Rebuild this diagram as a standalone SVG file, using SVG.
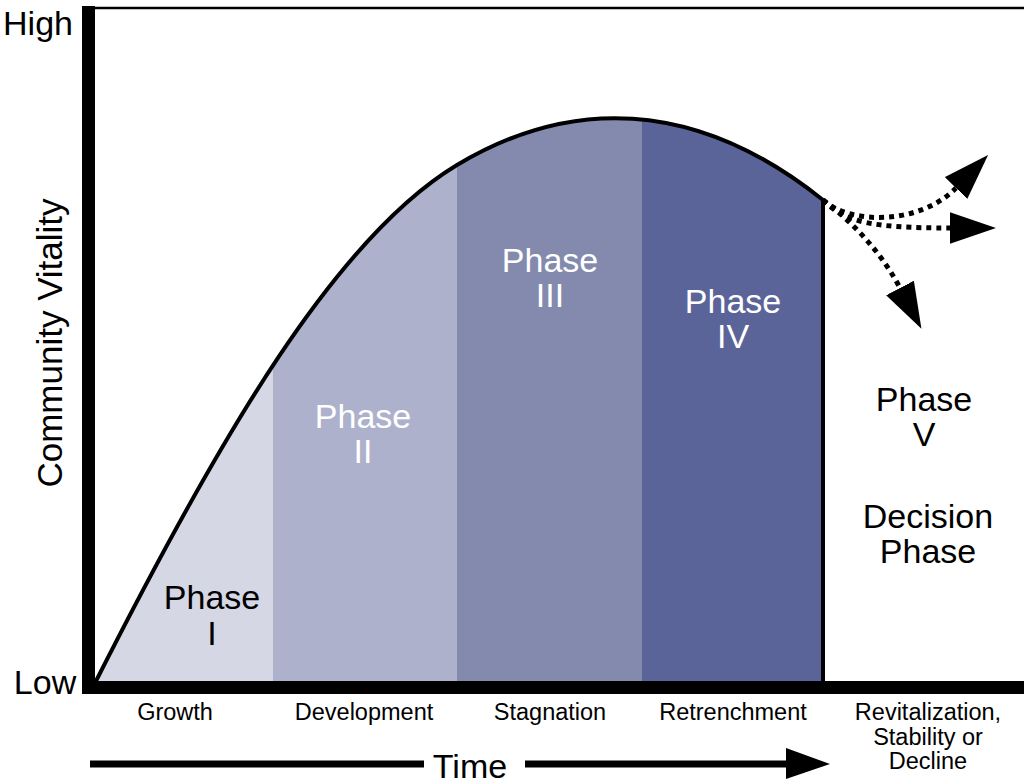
<svg xmlns="http://www.w3.org/2000/svg" width="1024" height="784" viewBox="0 0 1024 784">
<style>
text{font-family:"Liberation Sans",Arial,Helvetica,sans-serif;fill:#000}
.big{font-size:34px;text-anchor:middle}
.w{fill:#fff}
.lab{font-size:23.5px;text-anchor:middle}
.dot{fill:none;stroke:#000;stroke-width:5;stroke-dasharray:5 5}
</style>
<defs>
<clipPath id="under">
<path d="M95,683 C222,432 337,237 457,165 C567,99 693,96 823,200 L823,683 Z"/>
</clipPath>
<marker id="ah" markerUnits="userSpaceOnUse" markerWidth="46" markerHeight="32" refX="0" refY="15" orient="auto" viewBox="0 0 44 30">
<path d="M0,0 L44,15 L0,30 Z" fill="#000"/>
</marker>
</defs>
<rect width="1024" height="784" fill="#fff"/>
<g id="bands" clip-path="url(#under)">
<rect x="90" y="90" width="183" height="600" fill="#d5d7e4"/>
<rect x="273" y="90" width="184" height="600" fill="#adb1cc"/>
<rect x="457" y="90" width="185" height="600" fill="#838aae"/>
<rect x="642" y="90" width="182" height="600" fill="#5b6498"/>
</g>
<g id="curve">
<path d="M95,683 C222,432 337,237 457,165 C567,99 693,96 823,200 L823,683" fill="none" stroke="#000" stroke-width="4" stroke-linejoin="miter"/>
</g>
<g id="axes">
<line x1="95" y1="8" x2="1024" y2="8" stroke="#000" stroke-width="2.5"/>
<rect x="82" y="6" width="13" height="688" fill="#000"/>
<rect x="82" y="681" width="942" height="13" fill="#000"/>
</g>
<g id="connectors">
<path class="dot" d="M823,200 C850,225 920,225 956,188" marker-end="url(#ah)"/>
<path class="dot" d="M823,200 C845,222 870,228 950,228" marker-end="url(#ah)"/>
<path class="dot" d="M823,200 C850,220 880,250 900,288" marker-end="url(#ah)"/>
<line x1="90" y1="764" x2="424" y2="764" stroke="#000" stroke-width="7"/>
<line x1="525" y1="764" x2="790" y2="764" stroke="#000" stroke-width="7"/>
<polygon points="786,748 830,764 786,779" fill="#000"/>
</g>
<g id="axis-labels">
<text x="38" y="35" class="big">High</text>
<text x="45" y="694" class="big">Low</text>
<text transform="translate(62,343) rotate(-90)" class="big" style="font-size:35px">Community Vitality</text>
<text x="470" y="778" class="big">Time</text>
</g>
<g id="phase1"><text class="big" x="212" y="609">Phase</text><text class="big" x="212" y="645">I</text></g>
<g id="phase2"><text class="big w" x="363" y="428">Phase</text><text class="big w" x="363" y="463">II</text></g>
<g id="phase3"><text class="big w" x="550" y="272">Phase</text><text class="big w" x="550" y="307">III</text></g>
<g id="phase4"><text class="big w" x="733" y="313">Phase</text><text class="big w" x="733" y="348">IV</text></g>
<g id="phase5"><text class="big" x="924" y="411">Phase</text><text class="big" x="924" y="446">V</text><text class="big" x="928" y="528">Decision</text><text class="big" x="928" y="563">Phase</text></g>
<g id="stage-labels">
<text class="lab" x="175" y="720">Growth</text>
<text class="lab" x="364" y="720">Development</text>
<text class="lab" x="550" y="720">Stagnation</text>
<text class="lab" x="733" y="720">Retrenchment</text>
<text class="lab" x="928" y="720">Revitalization,</text>
<text class="lab" x="928" y="744.5">Stability or</text>
<text class="lab" x="928" y="769">Decline</text>
</g>
</svg>
